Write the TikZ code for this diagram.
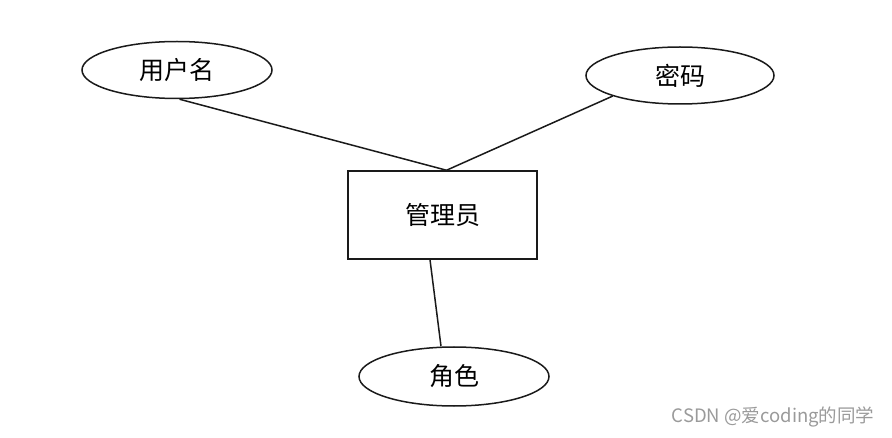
\documentclass[tikz,border=0pt]{standalone}
\usepackage{fontspec}
\usepackage{tikz}
\usetikzlibrary{shapes.geometric,positioning}
\newfontfamily\cjk{Noto Sans CJK SC}
\definecolor{ink}{HTML}{1A1A1A}
\definecolor{mark}{HTML}{9A9A9A}
\tikzset{
  link/.style={draw=ink,line width=1.5pt},
  attr/.style={ellipse,draw=ink,line width=1.5pt,inner sep=0pt,
    minimum width=190pt,minimum height=57pt,font=\cjk\fontsize{25}{28}\selectfont},
  entity/.style={rectangle,draw=ink,line width=1.5pt,inner sep=0pt,
    minimum width=189pt,minimum height=88pt,font=\cjk\fontsize{25}{28}\selectfont}
}

\begin{document}
\begin{tikzpicture}[x=1pt,y=-1pt]
  \useasboundingbox (0,0) rectangle (892,438);
  \node[entity] (admin) at (442.5,215) {管理员};
  \node[attr] (user) at (177,70) {用户名};
  \node[attr,minimum width=188pt] (pwd) at (680,75.5) {密码};
  \node[attr,minimum height=59pt] (role) at (454,376.5) {角色};
  \draw[link] (user.-85) -- ([xshift=4pt]admin.north);
  \draw[link] (pwd.-163) -- ([xshift=4pt]admin.north);
  \draw[link] ([xshift=-12.5pt]admin.south) -- ([xshift=-13pt]role.north);
  \node[font=\cjk\fontsize{18.5}{21}\selectfont,text=mark,anchor=east] (wm) at (878,417) {CSDN @爱coding的同学};
\end{tikzpicture}
\end{document}
